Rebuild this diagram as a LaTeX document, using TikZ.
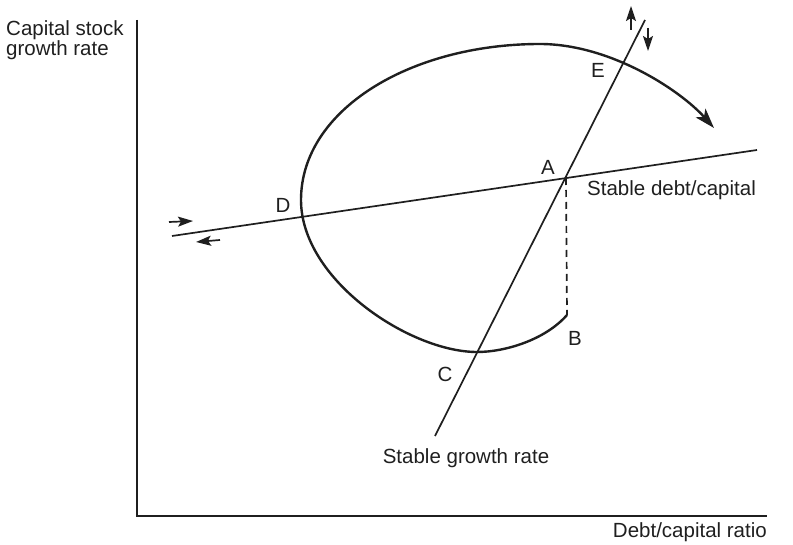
\documentclass[tikz,border=0pt]{standalone}
\usepackage{fontspec}
\setmainfont{Liberation Sans}
\usetikzlibrary{arrows.meta}
\begin{document}
\begin{tikzpicture}[x=1pt,y=-1pt,
  lbl/.style={font=\fontsize{20.5}{20.5}\selectfont, inner sep=0pt, text=black!88},
  axisline/.style={line width=1.4pt, black!88},
  thinline/.style={line width=1.7pt, black!88},
  curveline/.style={line width=2.4pt, black!88},
  smallarrow/.style={line width=1.7pt, black!88, -{Stealth[length=15pt,width=10pt,inset=3pt]}}]
\useasboundingbox (0,0) rectangle (793,545);
% axes
\coordinate (ytop) at (137,20);
\coordinate (orig) at (137,516);
\coordinate (xend) at (767,516);
\draw[axisline] (ytop) -- (orig) -- (xend);
% stable debt/capital line
\coordinate (dl) at (172,236);
\coordinate (dr) at (757,150);
\draw[thinline] (dl) -- (dr);
% stable growth line
\coordinate (gb) at (435,436);
\coordinate (gt) at (645,20);
\draw[thinline] (gb) -- (gt);
% dashed
\coordinate (Apt) at (566,178);
\coordinate (Bpt) at (567,315);
\draw[thinline, dash pattern=on 7pt off 5pt] (Apt) -- (Bpt);
% curve
\coordinate (Cmin) at (477,352);
\coordinate (Lpt) at (301,200);
\coordinate (peak) at (540,44);
\coordinate (tip) at (714,128);
\draw[curveline, -{Stealth[length=20pt,width=13pt,inset=5pt]}]
  (Bpt) .. controls (545,340) and (505,352) .. (Cmin)
        .. controls (410,352) and (301,280) .. (Lpt)
        .. controls (301,110) and (410,44) .. (peak)
        .. controls (610,44) and (680,90) .. (tip);
% small arrows
\coordinate (u1) at (631,30);
\coordinate (u2) at (631,6);
\draw[smallarrow] (u1) -- (u2);
\coordinate (d1) at (648,28);
\coordinate (d2) at (648,51);
\draw[smallarrow] (d1) -- (d2);
\coordinate (r1) at (169,222);
\coordinate (r2) at (193,221);
\draw[smallarrow] (r1) -- (r2);
\coordinate (l1) at (220,240);
\coordinate (l2) at (196,242);
\draw[smallarrow] (l1) -- (l2);
% labels
\node[lbl, anchor=west, align=left] (ylab) at (6,40) {Capital stock\\growth rate};
\node[lbl, anchor=east] (xlab) at (767,532) {Debt/capital ratio};
\node[lbl, anchor=west] (sdc) at (587,190) {Stable debt/capital};
\node[lbl] (sgr) at (466,458) {Stable growth rate};
\node[lbl] (A) at (548,167) {A};
\node[lbl] (E) at (598,70) {E};
\node[lbl] (D) at (283,205) {D};
\node[lbl] (B) at (575,338) {B};
\node[lbl] (C) at (445,374) {C};
\end{tikzpicture}
\end{document}
